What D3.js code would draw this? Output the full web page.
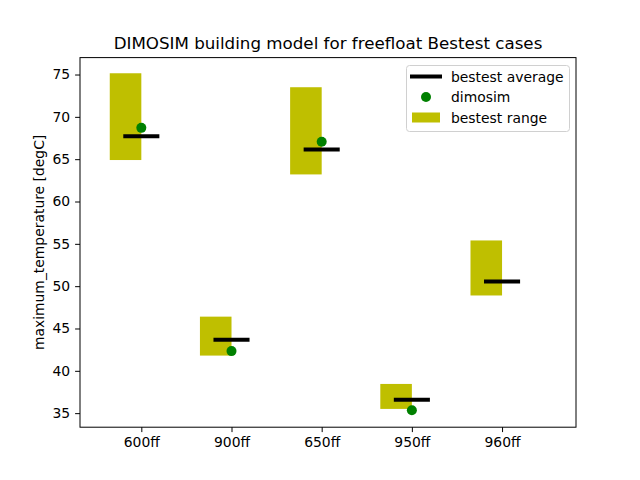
<!DOCTYPE html>
<html><head><meta charset="utf-8">
<script src="https://cdn.jsdelivr.net/npm/d3@7"></script>
<style>body{margin:0;background:#fff}svg{display:block}text{font-family:"DejaVu Sans",sans-serif}</style>
</head><body>
<svg id="c" width="640" height="480"></svg>
<script>
const categories = ["600ff","900ff","650ff","950ff","960ff"];
const rangeMin = [64.9, 41.8, 63.2, 35.5, 48.9];
const rangeMax = [75.15, 46.4, 73.5, 38.45, 55.4];
const bestestAverage = [67.7, 43.67, 66.15, 36.57, 50.55];
const dimosim = [68.7, 42.33, 67.07, 35.35, null];
const yTicks = [35,40,45,50,55,60,65,70,75];

const svg = d3.select("#c");
const L=80,R=576,T=57.6,B=427.2;
const x = d3.scaleLinear().domain([-0.68,4.82]).range([L,R]);
const y = d3.scaleLinear().domain([33.34,77.0]).range([B,T]);
const g = svg.append("g");

// bars
g.selectAll("rect.bar").data(categories).join("rect")
 .attr("x",(d,i)=>x(i-0.35)).attr("width",x(0)-x(-0.35))
 .attr("y",(d,i)=>y(rangeMax[i])).attr("height",(d,i)=>y(rangeMin[i])-y(rangeMax[i]))
 .attr("fill","#bfbf00");
// averages
g.selectAll("line.avg").data(categories).join("line")
 .attr("x1",(d,i)=>x(i-0.2)).attr("x2",(d,i)=>x(i+0.2))
 .attr("y1",(d,i)=>y(bestestAverage[i])).attr("y2",(d,i)=>y(bestestAverage[i]))
 .attr("stroke","#000").attr("stroke-width",4);
// dots
g.selectAll("circle.dot").data(dimosim.map((v,i)=>({v,i})).filter(d=>d.v!=null)).join("circle")
 .attr("cx",d=>x(d.i)).attr("cy",d=>y(d.v)).attr("r",5).attr("fill","#008000");

// axes
const xa = svg.append("g").attr("transform",`translate(0,${B})`)
 .call(d3.axisBottom(x).tickValues(categories.map((d,i)=>i)).tickFormat(i=>categories[i]).tickSize(4.9).tickPadding(4.9));
const ya = svg.append("g").attr("transform",`translate(${L},0)`)
 .call(d3.axisLeft(y).tickValues(yTicks).tickSize(4.9).tickPadding(4.9));
[xa,ya].forEach(a=>{a.select(".domain").remove();a.selectAll("text").attr("font-size","13.9px").attr("fill","#000").style("font-family","DejaVu Sans");a.selectAll("line").attr("stroke","#000").attr("stroke-width",1);});
svg.append("rect").attr("x",L).attr("y",T).attr("width",R-L).attr("height",B-T).attr("fill","none").attr("stroke","#000").attr("stroke-width",1);

svg.append("text").attr("x",(L+R)/2).attr("y",49).attr("text-anchor","middle").attr("font-size","16.7px").text("DIMOSIM building model for freefloat Bestest cases");
svg.append("text").attr("transform",`translate(44,${(T+B)/2}) rotate(-90)`).attr("text-anchor","middle").attr("font-size","13.9px").text("maximum_temperature [degC]");

// legend
const lg = svg.append("g");
lg.append("rect").attr("x",406.5).attr("y",65.5).attr("width",163).attr("height",66).attr("rx",3).attr("fill","#fff").attr("fill-opacity",0.8).attr("stroke","#d0d0d0");
const items=[{t:"bestest average",k:"line"},{t:"dimosim",k:"dot"},{t:"bestest range",k:"rect"}];
items.forEach((it,j)=>{
  const cy=76.5+j*20.5;
  if(it.k==="line") lg.append("line").attr("x1",410).attr("x2",442).attr("y1",cy).attr("y2",cy).attr("stroke","#000").attr("stroke-width",4);
  if(it.k==="dot") lg.append("circle").attr("cx",426).attr("cy",cy).attr("r",5).attr("fill","#008000");
  if(it.k==="rect") lg.append("rect").attr("x",412).attr("y",cy-5).attr("width",28).attr("height",10).attr("fill","#bfbf00");
  lg.append("text").attr("x",451).attr("y",cy+5).attr("font-size","13.9px").text(it.t);
});
</script>
</body></html>
